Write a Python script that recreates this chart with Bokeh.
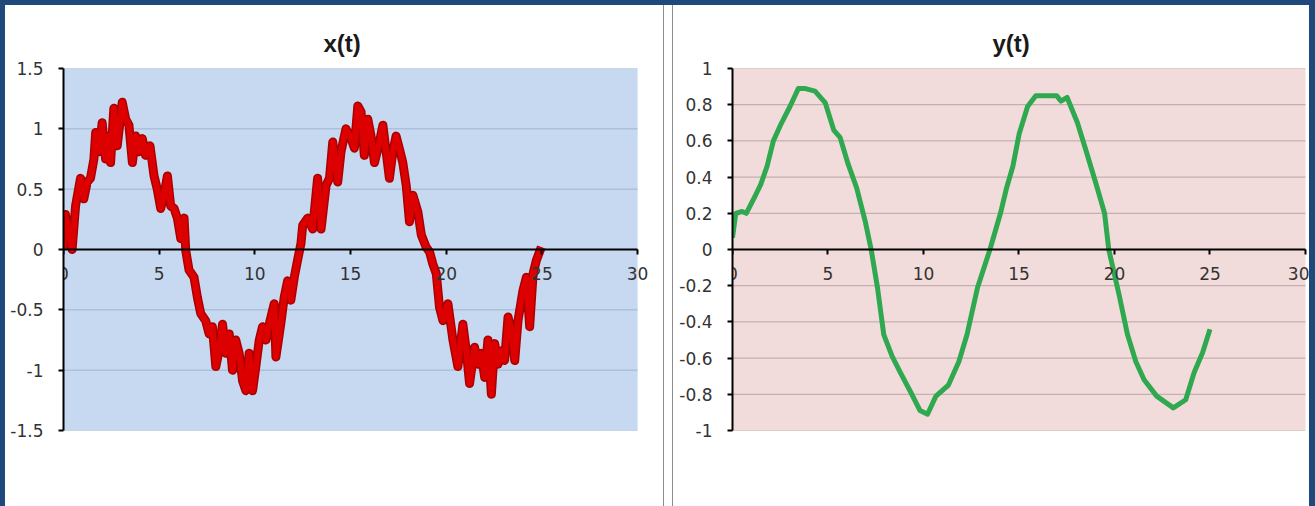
from bokeh.plotting import figure
from bokeh.layouts import row, column
from bokeh.models import FixedTicker, Spacer, BoxAnnotation
from bokeh.embed import file_html
from bokeh.resources import INLINE

# ---------------- data ----------------
x_ticks = [0, 5, 10, 15, 20, 25, 30]
x_labels = ["0", "5", "10", "15", "20", "25", "30"]
x_min, x_max = 0, 30

left_y_ticks = [-1.5, -1, -0.5, 0, 0.5, 1, 1.5]
left_y_labels = ["-1.5", "-1", "-0.5", "0", "0.5", "1", "1.5"]

right_y_ticks = [-1, -0.8, -0.6, -0.4, -0.2, 0, 0.2, 0.4, 0.6, 0.8, 1]
right_y_labels = ["-1", "-0.8", "-0.6", "-0.4", "-0.2", "0", "0.2", "0.4", "0.6", "0.8", "1"]

# x(t): noisy signal
xt_t = [0, 0.1, 0.45, 0.63, 0.89, 1.06, 1.24, 1.41, 1.59, 1.68, 1.85, 2.02, 2.2, 2.37,
        2.46, 2.63, 2.81, 3.07, 3.25, 3.42, 3.6, 3.77, 3.94, 4.12, 4.29, 4.52, 4.73, 4.9,
        5.08, 5.25, 5.43, 5.6, 5.78, 5.95, 6.13, 6.3, 6.39, 6.56, 6.82, 7.0, 7.17, 7.43,
        7.61, 7.78, 7.96, 8.13, 8.31, 8.48, 8.66, 8.83, 9.0, 9.18, 9.36, 9.53, 9.7, 9.88,
        10.05, 10.23, 10.4, 10.58, 10.75, 11.01, 11.1, 11.36, 11.53, 11.71, 11.88, 12.06,
        12.23, 12.41, 12.5, 12.76, 13.02, 13.28, 13.46, 13.72, 13.9, 14.07, 14.33, 14.5,
        14.76, 15.03, 15.2, 15.38, 15.55, 15.72, 15.9, 16.07, 16.25, 16.51, 16.69, 16.86,
        17.03, 17.21, 17.38, 17.56, 17.73, 17.91, 18.08, 18.26, 18.52, 18.7, 18.95, 19.13,
        19.3, 19.48, 19.65, 19.83, 20.09, 20.35, 20.61, 20.87, 21.05, 21.22, 21.48, 21.66,
        21.83, 22.01, 22.18, 22.36, 22.53, 22.71, 22.88, 23.05, 23.23, 23.4, 23.58, 23.75,
        24.01, 24.19, 24.36, 24.54, 24.71, 24.97]
xt_v = [0.0, 0.29, 0.0, 0.36, 0.59, 0.42, 0.56, 0.59, 0.75, 0.97, 0.81, 1.05, 0.75, 0.94,
        0.72, 1.17, 0.86, 1.22, 1.08, 1.03, 0.72, 0.94, 0.81, 0.92, 0.78, 0.86, 0.61, 0.5,
        0.34, 0.45, 0.61, 0.36, 0.34, 0.26, 0.09, 0.26, -0.01, -0.17, -0.23, -0.4, -0.53, -0.59,
        -0.7, -0.64, -0.97, -0.84, -0.62, -0.86, -0.7, -1.0, -0.75, -0.86, -1.09, -1.17, -0.86, -1.17,
        -0.97, -0.75, -0.64, -0.75, -0.62, -0.45, -0.89, -0.61, -0.4, -0.26, -0.42, -0.23,
        -0.09, 0.05, 0.2, 0.26, 0.17, 0.59, 0.17, 0.53, 0.59, 0.89, 0.56, 0.81,
        1.0, 0.92, 0.84, 1.19, 1.14, 0.78, 1.08, 0.94, 0.72, 0.89, 1.03, 0.81,
        0.59, 0.81, 0.94, 0.83, 0.72, 0.53, 0.23, 0.45, 0.31, 0.12, 0.02, -0.02,
        -0.12, -0.2, -0.48, -0.59, -0.45, -0.75, -0.97, -0.62, -0.84, -1.11, -0.81, -0.95,
        -0.86, -1.06, -0.75, -1.2, -0.78, -0.95, -0.84, -0.92, -0.56, -0.67, -0.92, -0.59,
        -0.34, -0.23, -0.64, -0.2, -0.09, 0.02]

# y(t): smooth signal
yt_t = [0, 0.17, 0.5, 0.72, 1.16, 1.48, 1.81, 2.14, 2.57, 3.01, 3.45, 3.77, 4.32, 4.86,
        5.3, 5.63, 6.06, 6.5, 6.94, 7.26, 7.59, 7.92, 8.36, 8.79, 9.34, 9.82, 10.21, 10.65,
        11.3, 11.85, 12.28, 12.83, 13.48, 14.03, 14.35, 14.68, 15.01, 15.45, 15.88, 16.54,
        16.97, 17.19, 17.52, 18.06, 18.5, 19.04, 19.48, 19.7, 20.24, 20.68, 21.12, 21.55,
        22.21, 23.08, 23.73, 24.17, 24.61, 25.0]
yt_v = [0.065, 0.2, 0.21, 0.2, 0.29, 0.36, 0.46, 0.6, 0.7, 0.79, 0.89, 0.89, 0.875, 0.81,
        0.66, 0.62, 0.47, 0.34, 0.16, 0.0, -0.21, -0.47, -0.59, -0.68, -0.79, -0.89, -0.91, -0.81,
        -0.75, -0.62, -0.47, -0.21, 0.0, 0.2, 0.34, 0.46, 0.64, 0.79, 0.85, 0.85,
        0.85, 0.82, 0.84, 0.7, 0.55, 0.36, 0.2, 0.0, -0.25, -0.47, -0.62, -0.72,
        -0.81, -0.875, -0.83, -0.68, -0.57, -0.44]

TITLE_FONT = "Liberation Sans"
TICK_FONT = "DejaVu Sans"
FRAME_BLUE = "#1f497d"


def make_fig(title, width, mbl, mbr, x_end, y_lo, y_hi, bg, grid_color, yticks, ylabels):
    p = figure(width=width, height=501, x_range=(x_min, x_end), y_range=(y_lo, y_hi),
               output_backend="svg", toolbar_location=None,
               min_border_left=mbl, min_border_right=mbr,
               min_border_top=63, min_border_bottom=76,
               background_fill_color="white", border_fill_color="white",
               outline_line_color=None)
    p.title.text = title
    p.title.align = "left"
    p.title.offset = 260
    p.title.text_font = TITLE_FONT
    p.title.text_font_size = "24px"
    p.title.text_font_style = "bold"
    p.title.text_color = "#1a1a1a"
    p.title.standoff = 24

    # plot-area background
    p.add_layout(BoxAnnotation(left=x_min, right=x_max, bottom=y_lo, top=y_hi,
                               fill_color=bg, fill_alpha=1.0, line_color=None,
                               level="image"))
    p.xgrid.grid_line_color = None
    p.ygrid.grid_line_color = None
    # horizontal gridlines, limited to the plot area
    p.segment(x0=[x_min] * len(yticks), x1=[x_max] * len(yticks), y0=yticks, y1=yticks,
              line_color=grid_color, line_width=1)

    xa = p.xaxis[0]
    xa.ticker = FixedTicker(ticks=x_ticks)
    xa.major_label_overrides = dict(zip(x_ticks, x_labels))
    xa.fixed_location = 0
    xa.bounds = (x_min, x_max)
    ya = p.yaxis[0]
    ya.ticker = FixedTicker(ticks=yticks)
    ya.major_label_overrides = dict(zip(yticks, ylabels))
    for ax in (xa, ya):
        ax.axis_line_color = "black"
        ax.axis_line_width = 2
        ax.major_tick_line_color = "black"
        ax.major_tick_line_width = 2
        ax.major_tick_in = 0
        ax.major_tick_out = 5
        ax.minor_tick_line_color = None
        ax.major_label_text_font = TICK_FONT
        ax.major_label_text_font_size = "17px"
        ax.major_label_text_color = "#333333"
    xa.major_label_standoff = 12
    ya.major_label_standoff = 15
    return p


p1 = make_fig("x(t)", 658, 58, 15, 30.57, -1.5, 1.5, "#c6d9f0", "#9fb4d0",
              left_y_ticks, left_y_labels)
p1.line(xt_t, xt_v, line_color="#aa0000", line_width=9, line_join="round")
p1.line(xt_t, xt_v, line_color="#dd0000", line_width=6, line_join="round")

p2 = make_fig("y(t)", 636, 59, 0, 30.21, -1, 1, "#f2dcdb", "#b8a5a4",
              right_y_ticks, right_y_labels)
p2.line(yt_t, yt_v, line_color="#2fa84f", line_width=5, line_join="round")


def strip(w, h, color):
    return Spacer(width=w, height=h, styles={"background-color": color})


layout = column(
    strip(1315, 5, FRAME_BLUE),
    row(strip(5, 501, FRAME_BLUE), p1, strip(1, 501, "#8c8c8c"), strip(8, 501, "white"),
        strip(1, 501, "#8c8c8c"), p2, strip(6, 501, FRAME_BLUE), spacing=0),
    spacing=0,
)

open("out.html", "w").write(file_html(layout, INLINE))
